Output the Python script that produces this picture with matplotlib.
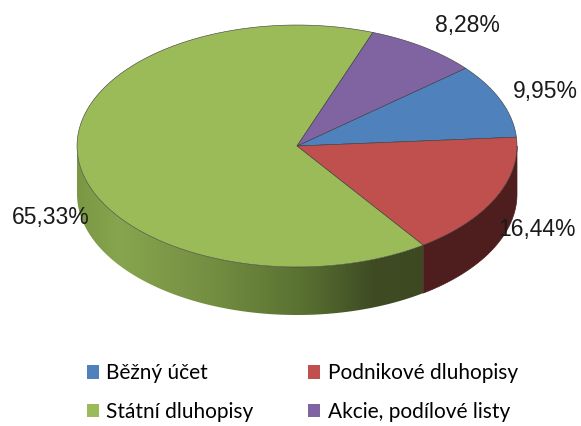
import numpy as np
import matplotlib.pyplot as plt
from matplotlib.patches import Polygon, Patch
from matplotlib.colors import LinearSegmentedColormap

# data
labels = ['Běžný účet', 'Podnikové dluhopisy', 'Státní dluhopisy', 'Akcie, podílové listy']
shares = [9.95, 16.44, 65.33, 8.28]
pct_text = ['9,95%', '16,44%', '65,33%', '8,28%']
colors = ['#4f81bd', '#c0504d', '#9bbb59', '#8064a2']
side_colors = ['#2c4a70', '#4e1e1e', '#3c4921', '#4a3a60']

# layout (pixels, y down)
cx, cy = 297, 146
rx, ry = 220, 121
depth = 48
start = 40.0
label_pos = [(1.22, 0, 1), (1.20, 2, 21), (1.13, 0, 54), (1.25, 12, 3)]

green_wall = LinearSegmentedColormap.from_list(
    'gw', [(0.0, '#7a9744'), (0.12, '#87a54e'), (0.38, '#758f42'),
           (0.64, '#5a7232'), (0.86, '#3e4b23'), (1.0, '#3c4921')])


def pt(t, r=1.0, down=0):
    t = np.radians(t)
    return cx + r * rx * np.cos(t), cy - r * ry * np.sin(t) + down


fig = plt.figure(figsize=(5.81, 4.26), dpi=100)
ax = fig.add_axes([0, 0, 1, 1])
ax.axis('off')

# slice angles (clockwise from start)
bounds = []
a = start
for s in shares:
    b = a - s / 100 * 360
    bounds.append((b, a))
    a = b

# side walls (front half only)
for i, (a0, a1) in enumerate(bounds):
    lo, hi = a0 % 360, a0 % 360 + (a1 - a0)
    for k in range(-1, 2):
        s0 = max(lo, 180 + 360 * k)
        s1 = min(hi, 360 + 360 * k)
        if s1 <= s0:
            continue
        t = np.linspace(s0, s1, 120)
        top = [pt(v) for v in t]
        bot = [pt(v, down=depth) for v in t[::-1]]
        if i == 2:
            wall = Polygon(top + bot, closed=True, fc='none', ec='none')
            ax.add_patch(wall)
            xs = [p[0] for p in top + bot]
            ys = [p[1] for p in top + bot]
            grad = np.linspace(0, 1, 256).reshape(1, -1)
            im = ax.imshow(grad, cmap=green_wall, aspect='auto',
                           extent=(min(xs), max(xs), max(ys), min(ys)), zorder=1)
            im.set_clip_path(wall)
        else:
            ax.add_patch(Polygon(top + bot, closed=True, fc=side_colors[i],
                                 ec=side_colors[i], lw=0.5, zorder=1))

# top faces
for i, (a0, a1) in enumerate(bounds):
    t = np.linspace(a0, a1, 100)
    poly = [(cx, cy)] + [pt(v) for v in t]
    ax.add_patch(Polygon(poly, closed=True, fc=colors[i], ec='#3a3a3a', lw=0.4, zorder=3))

ax.set_xlim(0, 581)
ax.set_ylim(426, 0)

# percentage labels
for i, (a0, a1) in enumerate(bounds):
    r, dx, dy = label_pos[i]
    x, y = pt((a0 + a1) / 2, r=r, down=dy)
    ax.text(x + dx, y, pct_text[i], ha='center', va='center', fontsize=16.5,
            family='Liberation Sans', color='#1a1a1a', zorder=5)

order = [0, 2, 1, 3]
handles = [Patch(fc=colors[i], ec='none') for i in order]
fig.legend(handles, [labels[i] for i in order], ncol=2, loc='center',
           bbox_to_anchor=(0.52, 0.078), frameon=False,
           prop={'family': 'Lato', 'size': 15},
           handlelength=0.6, handleheight=0.6, handletextpad=0.35,
           columnspacing=2.6, labelspacing=0.9)

fig.savefig('out.png', dpi=100)
